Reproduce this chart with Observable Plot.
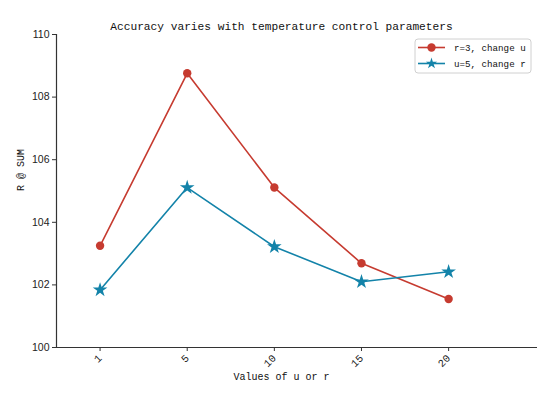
<!DOCTYPE html>
<html>
<head>
<meta charset="utf-8">
<script src="https://cdn.jsdelivr.net/npm/d3@7"></script>
<script src="https://cdn.jsdelivr.net/npm/@observablehq/plot@0.6"></script>
<style>
  html, body { margin: 0; padding: 0; background: #fff; }
  svg { display: block; }
</style>
</head>
<body>
<div id="chart"></div>
<script>
const xLabels = ["1", "5", "10", "15", "20"];
const redValues = [103.25, 108.76, 105.11, 102.69, 101.55];
const blueValues = [101.84, 105.11, 103.22, 102.10, 102.42];
const seriesNames = ["r=3, change u", "u=5, change r"];
const seriesColors = ["#c63b30", "#1383a9"];
const yTicks = [100, 102, 104, 106, 108, 110];
const titleText = "Accuracy varies with temperature control parameters";
const xLabelText = "Values of u or r";
const yLabelText = "R @ SUM";

const rows = [];
xLabels.forEach((l, i) => {
  rows.push({i, label: l, value: redValues[i], series: seriesNames[0]});
});
xLabels.forEach((l, i) => {
  rows.push({i, label: l, value: blueValues[i], series: seriesNames[1]});
});
const red = rows.filter(d => d.series === seriesNames[0]);
const blue = rows.filter(d => d.series === seriesNames[1]);

const W = 550, H = 393;
const mono = "'Liberation Mono', 'DejaVu Sans Mono', monospace";
const sans = "'Liberation Sans', Arial, sans-serif";

const plot = Plot.plot({
  width: W,
  height: H,
  marginLeft: 56,
  marginRight: 13,
  marginTop: 34,
  marginBottom: 46,
  style: {fontFamily: sans, fontSize: "10px", background: "#fff"},
  x: {type: "linear", domain: [-0.5, 5.02]},
  y: {domain: [100, 110]},
  marks: [
    Plot.ruleY([100], {stroke: "#333", strokeWidth: 1.2}),
    Plot.ruleX([-0.5], {y1: 100, y2: 110, stroke: "#333", strokeWidth: 1.2}),
    Plot.axisY({ticks: yTicks, tickSize: 4, tickPadding: 3, label: null, stroke: "#333", fontFamily: sans, fontSize: 10.5, fill: "#222"}),
    Plot.axisX({ticks: d3.range(xLabels.length), tickFormat: i => xLabels[i], tickSize: 4, tickRotate: -45, tickPadding: 5, label: null, stroke: "#333", fontFamily: mono, fontSize: 10.5, fill: "#222"}),
    Plot.line(red, {x: "i", y: "value", stroke: seriesColors[0], strokeWidth: 1.6}),
    Plot.dot(red, {x: "i", y: "value", fill: seriesColors[0], r: 4.2, symbol: "circle"}),
    Plot.line(blue, {x: "i", y: "value", stroke: seriesColors[1], strokeWidth: 1.6}),
    Plot.dot(blue, {x: "i", y: "value", fill: seriesColors[1], r: 4.6, symbol: "star"}),
    Plot.text([titleText], {frameAnchor: "top", dy: -12.5, dx: -15.5, fontFamily: mono, fontSize: 11.2, fill: "#111"}),
    Plot.text([xLabelText], {frameAnchor: "bottom", dy: 32, dx: -15.5, fontFamily: mono, fontSize: 10, fill: "#111"}),
    Plot.text([yLabelText], {frameAnchor: "left", rotate: -90, dx: -36, fontFamily: mono, fontSize: 10, fill: "#111"})
  ]
});

document.getElementById("chart").appendChild(plot);

// legend
const svg = d3.select(plot);
const lg = svg.append("g").attr("transform", "translate(415,39)");
lg.append("rect").attr("width", 116).attr("height", 34).attr("rx", 3)
  .attr("fill", "#fff").attr("fill-opacity", 0.85).attr("stroke", "#d0d0d0");
const star = d3.symbol(d3.symbolStar, Math.PI * 4.6 * 4.6 * 0.6)();
const circ = d3.symbol(d3.symbolCircle, Math.PI * 4.2 * 4.2)();
seriesNames.forEach((name, k) => {
  const y = 8.5 + k * 16;
  const g = lg.append("g").attr("transform", `translate(0,${y})`);
  g.append("line").attr("x1", 3).attr("x2", 30).attr("stroke", seriesColors[k]).attr("stroke-width", 1.6);
  g.append("path").attr("d", k === 0 ? circ : star).attr("transform", "translate(16.5,0)").attr("fill", seriesColors[k]);
  g.append("text").attr("x", 39).attr("dy", "0.35em").attr("text-anchor", "start")
    .attr("font-family", mono).attr("font-size", 9.2).attr("fill", "#111").text(name);
});
</script>
</body>
</html>
